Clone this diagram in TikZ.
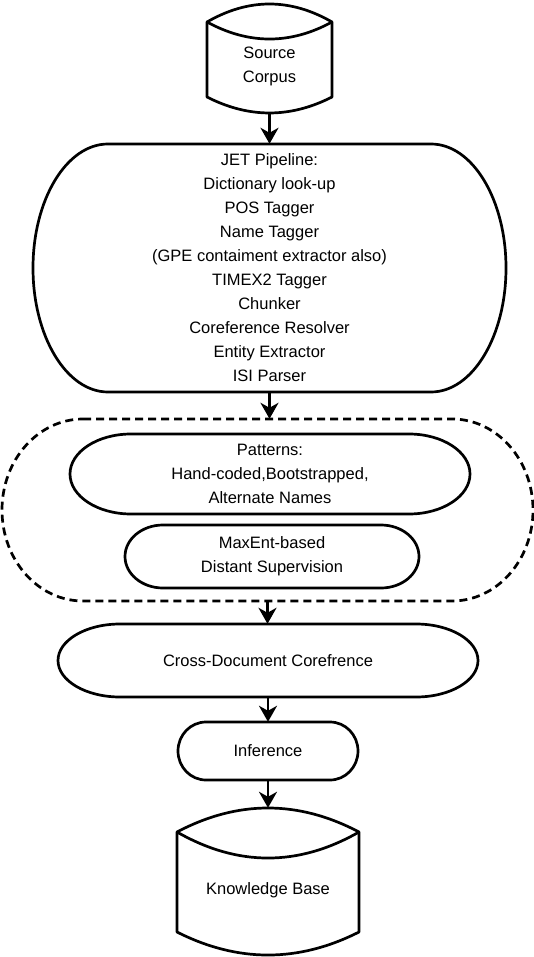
\documentclass[tikz,border=0pt]{standalone}
\usepackage{fontspec}
\setmainfont{Liberation Sans}
\usetikzlibrary{arrows.meta}
\tikzset{
  lbl/.style={align=center, inner sep=0pt, font=\fontsize{16.5}{24}\selectfont},
  holder/.style={draw=none, inner sep=0pt, align=center, font=\fontsize{16.5}{24}\selectfont},
  outline/.style={draw=black, line width=2.7pt, line join=round},
  dashline/.style={draw=black, line width=2.7pt, dash pattern=on 8pt off 5pt},
  arr/.style={draw=black, line width=2.8pt, -{Stealth[length=16pt,width=18pt,inset=5pt]}}
}
% #1 name, #2 x1, #3 top, #4 x2, #5 bottom, #6 rx, #7 style, #8 text
\newcommand\stadbox[8]{%
  \node[holder, minimum width={(#4)-(#2)}, minimum height={(#5)-(#3)}] (#1) at ({(#2+#4)/2},{(#3+#5)/2}) {#8};
  \path[#7] ({#2+#6},#3) -- ({#4-#6},#3)
    .. controls ({#4-0.4477*#6},#3) and (#4,{(#3+#5)/2-0.5523*(#5-#3)/2}) .. (#4,{(#3+#5)/2})
    .. controls (#4,{(#3+#5)/2+0.5523*(#5-#3)/2}) and ({#4-0.4477*#6},#5) .. ({#4-#6},#5)
    -- ({#2+#6},#5)
    .. controls ({#2+0.4477*#6},#5) and (#2,{(#3+#5)/2+0.5523*(#5-#3)/2}) .. (#2,{(#3+#5)/2})
    .. controls (#2,{(#3+#5)/2-0.5523*(#5-#3)/2}) and ({#2+0.4477*#6},#3) .. ({#2+#6},#3) -- cycle;
}
\begin{document}
\begin{tikzpicture}[x=1pt,y=-1pt]
\useasboundingbox (0,0) rectangle (534,957);

% Source Corpus cylinder
\path[outline] (207,22) .. controls (248.7,-2) and (290.3,-2) .. (332,22)
  -- (332,97) .. controls (290.3,118.3) and (248.7,118.3) .. (207,97) -- cycle;
\path[outline] (207,22) .. controls (248.7,44.7) and (290.3,44.7) .. (332,22);
\node[holder, minimum width=125pt, minimum height=109pt] (src) at (269.5,58.5) {};
\node[lbl] (srct) at (269.5,66) {Source\\Corpus};

% JET pipeline
\stadbox{jet}{33}{144}{506}{392}{75}{outline}{JET Pipeline:\\Dictionary look-up\\POS Tagger\\Name Tagger\\(GPE contaiment extractor also)\\TIMEX2 Tagger\\Chunker\\Coreference Resolver\\Entity Extractor\\ISI Parser}

% dashed group
\stadbox{grp}{2}{419}{533}{601}{81}{dashline}{}
\stadbox{pat}{70}{434}{470}{514}{61}{outline}{Patterns:\\Hand-coded,Bootstrapped,\\Alternate Names}
\stadbox{maxent}{125}{525}{419}{588}{38}{outline}{MaxEnt-based\\Distant Supervision}

% cross document
\stadbox{xdoc}{58}{624}{478}{697}{62}{outline}{Cross-Document Corefrence}
\stadbox{inf}{178}{722}{358}{780}{28}{outline}{Inference}

% Knowledge Base cylinder
\path[outline] (177,832) .. controls (237.7,800) and (298.3,800) .. (359,832)
  -- (359,932) .. controls (298.3,962.7) and (237.7,962.7) .. (177,932) -- cycle;
\path[outline] (177,832) .. controls (237.7,866.7) and (298.3,866.7) .. (359,832);
\node[holder, minimum width=182pt, minimum height=147pt] (kb) at (268,881.5) {};
\node[lbl] (kbt) at (268,890) {Knowledge Base};

% connectors
\draw[arr] (src.south) -- (src.south |- jet.north);
\draw[arr] (jet.south) -- (jet.south |- grp.north);
\draw[arr] (grp.south) -- (grp.south |- xdoc.north);
\draw[arr] (xdoc.south) -- (xdoc.south |- inf.north);
\draw[arr] (inf.south) -- (inf.south |- kb.north);
\end{tikzpicture}
\end{document}
